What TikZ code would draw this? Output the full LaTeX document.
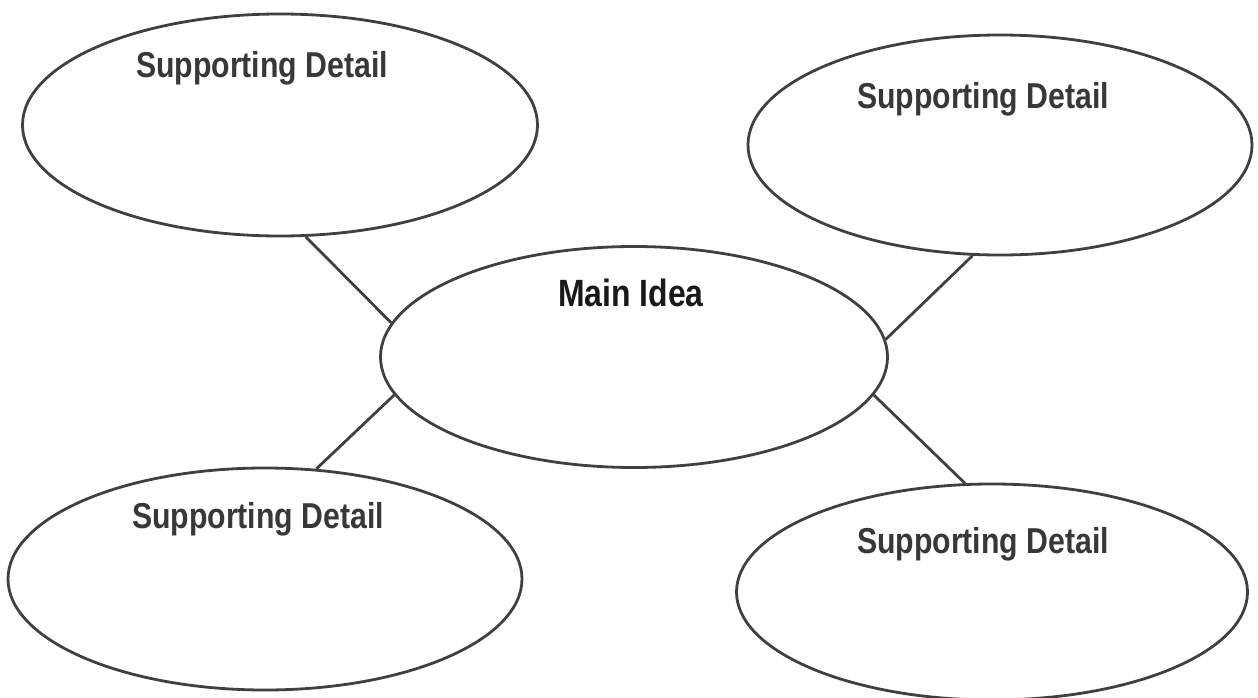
\documentclass[tikz,border=0pt]{standalone}
\usepackage{fontspec}
\setmainfont{Liberation Sans}[FakeStretch=0.84]
\usetikzlibrary{shapes.geometric}
\begin{document}
\begin{tikzpicture}[x=1pt,y=-1pt,
  bubble/.style={draw=black!75, line width=2.8pt, ellipse, inner sep=0pt},
  link/.style={draw=black!75, line width=2.8pt},
  label/.style={font=\bfseries\fontsize{36}{39}\selectfont, text=black!78, anchor=base}]
  \useasboundingbox (0,0) rectangle (1258,698);
  % five ellipses
  \node[bubble, minimum width=515pt, minimum height=222pt] (tl) at (280,125) {};
  \node[bubble, minimum width=504pt, minimum height=220pt] (tr) at (1000,145) {};
  \node[bubble, minimum width=507pt, minimum height=221pt] (mid) at (634,357) {};
  \node[bubble, minimum width=514pt, minimum height=222pt] (bl) at (265,579) {};
  \node[bubble, minimum width=511pt, minimum height=216pt] (br) at (992,592) {};
  % titles
  \node[label] (ttl) at (262,78) {Supporting Detail};
  \node[label] (ttr) at (983,109) {Supporting Detail};
  \node[label, text=black!90, font=\bfseries\fontsize{38}{41}\selectfont] (tmid) at (631,306) {Main Idea};
  \node[label] (tbl) at (258,528) {Supporting Detail};
  \node[label] (tbr) at (983,553) {Supporting Detail};
  % connectors
  \path[link] (tl.-77) -- (mid.172.5);
  \path[link] (tr.-104) -- (mid.4);
  \path[link] (bl.65) -- (mid.189);
  \path[link] (br.104) -- (mid.-9);
\end{tikzpicture}
\end{document}
